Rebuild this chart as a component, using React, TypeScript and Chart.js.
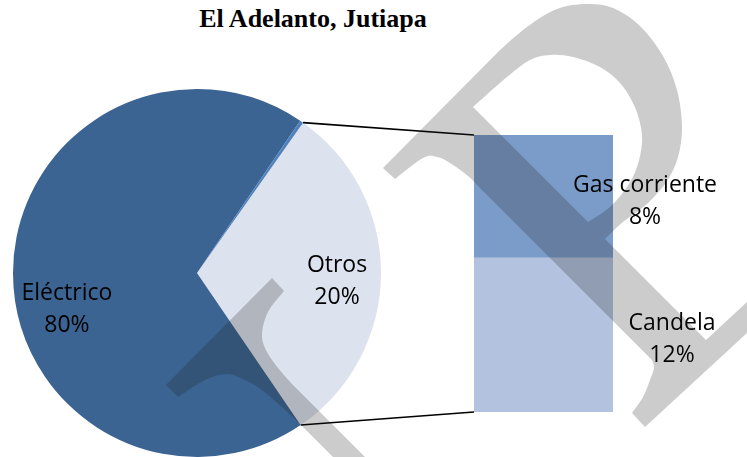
import React, { useEffect, useRef } from "react";
import { Chart, registerables } from "chart.js";

Chart.register(...registerables);

// ---------- data ----------
const TITLE = "El Adelanto, Jutiapa";

// pie slices (share of the drawn circle, in %)
const pieLabels = ["Otros", "Eléctrico", ""];
const pieValues = [30.7, 69.0, 0.3];
const pieLabelText = ["20%", "80%", ""];

// bar of pie (bottom to top)
const barLabels = ["Candela", "Gas corriente"];
const barValues = [17.1, 13.6];
const barLabelText = ["12%", "8%"];

// ---------- styles / layout ----------
const PIE_COLORS = ["#DCE2EE", "#3C6492", "#4F81BD"];
const BAR_COLORS = ["#B3C3DF", "#7B9CC8"];
const PIE_ROTATION = 35.2;
const LABEL_FONT = '23px "Open Sans"';
const LINE_GAP = 32;
// label block anchor, as fraction of pie radius from the pie centre
const PIE_LABEL_POS = [
  { fx: 0.761, fy: 0.038 },
  { fx: -0.707, fy: 0.19 },
  null,
];
// label block anchor, px from the centre of each bar segment
const BAR_LABEL_POS = [
  { dx: 128.5, dy: 3 },
  { dx: 101.5, dy: 3.5 },
];

function drawLabel(ctx: CanvasRenderingContext2D, x: number, y: number, l1: string, l2: string) {
  ctx.save();
  ctx.font = LABEL_FONT;
  ctx.fillStyle = "#000";
  ctx.textAlign = "center";
  ctx.textBaseline = "alphabetic";
  ctx.fillText(l1, x, y - 8);
  ctx.fillText(l2, x, y - 8 + LINE_GAP);
  ctx.restore();
}

type P = [number, number];
function smooth(ctx: CanvasRenderingContext2D, pts: P[]) {
  for (let i = 0; i < pts.length - 1; i++) {
    const p0 = pts[i - 1] || pts[i];
    const p1 = pts[i];
    const p2 = pts[i + 1];
    const p3 = pts[i + 2] || p2;
    ctx.bezierCurveTo(
      p1[0] + (p2[0] - p0[0]) / 6,
      p1[1] + (p2[1] - p0[1]) / 6,
      p2[0] - (p3[0] - p1[0]) / 6,
      p2[1] - (p3[1] - p1[1]) / 6,
      p2[0],
      p2[1]
    );
  }
}

// decorative background watermark (not data)
function drawWatermark(ctx: CanvasRenderingContext2D) {
  ctx.save();
  ctx.beginPath();
  // upper shape: serif, bowl, diagonal band and tail
  ctx.moveTo(383, 168);
  ctx.lineTo(500, 50);
  smooth(ctx, [
    [500, 50], [527, 27], [557, 9], [587, 4], [613, 8], [640, 26], [663, 56],
    [677, 90], [682, 127], [678, 157], [667, 181], [648, 203], [623, 222], [605, 239],
  ]);
  ctx.lineTo(706, 340);
  ctx.lineTo(760, 290);
  ctx.lineTo(760, 321);
  ctx.lineTo(645, 427);
  ctx.lineTo(632, 413);
  smooth(ctx, [[632, 413], [643, 397], [650, 380], [654, 368], [652, 360]]);
  ctx.lineTo(482, 190);
  smooth(ctx, [[482, 190], [468, 176], [450, 163], [437, 157], [423, 158], [395, 179]]);
  ctx.closePath();
  // hole inside the bowl
  ctx.moveTo(473, 107);
  smooth(ctx, [
    [473, 107], [507, 77], [530, 60], [550, 55], [573, 57], [600, 67], [620, 83],
    [633, 103], [640, 123], [642, 143], [637, 167], [627, 187], [610, 207], [588, 222],
  ]);
  ctx.closePath();
  // lower-left serif and stem
  ctx.moveTo(166, 385);
  ctx.lineTo(272, 278);
  ctx.lineTo(284, 291);
  smooth(ctx, [[284, 291], [268, 312], [262, 335], [267, 352], [278, 368], [292, 384]]);
  ctx.lineTo(390, 482);
  ctx.lineTo(358, 482);
  ctx.lineTo(303, 427);
  smooth(ctx, [[303, 427], [283, 408], [262, 390], [245, 380], [227, 374], [205, 380], [178, 397]]);
  ctx.closePath();
  ctx.fillStyle = "rgba(23,23,23,0.22)";
  ctx.fill("evenodd");
  ctx.restore();
}

export default function App() {
  const pieRef = useRef<HTMLCanvasElement>(null);
  const barRef = useRef<HTMLCanvasElement>(null);

  useEffect(() => {
    const pieCanvas = pieRef.current!;
    const barCanvas = barRef.current!;

    const pieLabelPlugin = {
      id: "pieLabels",
      afterDatasetsDraw(chart: any) {
        const ctx = chart.ctx;
        const meta = chart.getDatasetMeta(0);
        meta.data.forEach((arc: any, i: number) => {
          const pos = PIE_LABEL_POS[i];
          if (!pos || !pieLabels[i]) return;
          const { x, y, outerRadius } = arc.getProps(["x", "y", "outerRadius"], true);
          drawLabel(ctx, x + pos.fx * outerRadius, y + pos.fy * outerRadius, pieLabels[i], pieLabelText[i]);
        });
      },
    };

    const pie = new Chart(pieCanvas, {
      type: "pie",
      data: {
        labels: pieLabels,
        datasets: [{ data: pieValues, backgroundColor: PIE_COLORS, borderWidth: 0 }],
      },
      options: {
        responsive: false,
        animation: false,
        events: [],
        rotation: PIE_ROTATION,
        layout: { padding: 0 },
        plugins: { legend: { display: false }, tooltip: { enabled: false }, title: { display: false } },
      },
      plugins: [pieLabelPlugin],
    });

    const barPlugin = {
      id: "barExtras",
      afterDraw(chart: any) {
        const ctx = chart.ctx;
        // labels
        barLabels.forEach((lab, i) => {
          const el = chart.getDatasetMeta(i).data[0];
          const { x, y, base } = el.getProps(["x", "y", "base"], true);
          const cy = (y + base) / 2;
          drawLabel(ctx, x + BAR_LABEL_POS[i].dx, cy + BAR_LABEL_POS[i].dy, lab, barLabelText[i]);
        });
        // connector lines from the "Otros" slice to the bar
        const offX = pieCanvas.offsetLeft - barCanvas.offsetLeft;
        const offY = pieCanvas.offsetTop - barCanvas.offsetTop;
        const arc: any = pie.getDatasetMeta(0).data[0];
        const a = arc.getProps(["x", "y", "startAngle", "endAngle", "outerRadius"], true);
        const topEl: any = chart.getDatasetMeta(barLabels.length - 1).data[0];
        const botEl: any = chart.getDatasetMeta(0).data[0];
        const t = topEl.getProps(["x", "y", "width"], true);
        const b = botEl.getProps(["x", "base", "width"], true);
        ctx.save();
        ctx.strokeStyle = "#000";
        ctx.lineWidth = 1.6;
        ctx.beginPath();
        ctx.moveTo(offX + a.x + a.outerRadius * Math.cos(a.startAngle), offY + a.y + a.outerRadius * Math.sin(a.startAngle));
        ctx.lineTo(t.x - t.width / 2, t.y);
        ctx.moveTo(offX + a.x + a.outerRadius * Math.cos(a.endAngle), offY + a.y + a.outerRadius * Math.sin(a.endAngle));
        ctx.lineTo(b.x - b.width / 2, b.base);
        ctx.stroke();
        ctx.restore();
        drawWatermark(ctx);
      },
    };

    const bar = new Chart(barCanvas, {
      type: "bar",
      data: {
        labels: ["Otros"],
        datasets: barLabels.map((lab, i) => ({
          label: lab,
          data: [barValues[i]],
          backgroundColor: BAR_COLORS[i],
          borderWidth: 0,
          barPercentage: 1,
          categoryPercentage: 1,
        })),
      },
      options: {
        responsive: false,
        animation: false,
        events: [],
        layout: { padding: { left: 474, right: 134, top: 135, bottom: 45 } },
        scales: {
          x: { display: false, stacked: true },
          y: {
            display: false,
            stacked: true,
            min: 0,
            max: barValues.reduce((s, v) => s + v, 0),
          },
        },
        plugins: { legend: { display: false }, tooltip: { enabled: false }, title: { display: false } },
      },
      plugins: [barPlugin],
    });

    return () => {
      bar.destroy();
      pie.destroy();
    };
  }, []);

  return (
    <div
      style={{
        position: "fixed",
        left: 0,
        top: 0,
        width: 747,
        height: 457,
        overflow: "hidden",
        background: "#fff",
      }}
    >
      <div
        style={{
          position: "absolute",
          left: 0,
          top: 6,
          width: 626,
          textAlign: "center",
          fontFamily: '"Liberation Serif", "Times New Roman", serif',
          fontWeight: "bold",
          fontSize: 26,
          lineHeight: "26px",
          color: "#000",
          whiteSpace: "nowrap",
        }}
      >
        {TITLE}
      </div>
      <canvas ref={pieRef} width={368} height={368} style={{ position: "absolute", left: 13, top: 89 }} />
      <canvas ref={barRef} width={747} height={457} style={{ position: "absolute", left: 0, top: 0 }} />
    </div>
  );
}
